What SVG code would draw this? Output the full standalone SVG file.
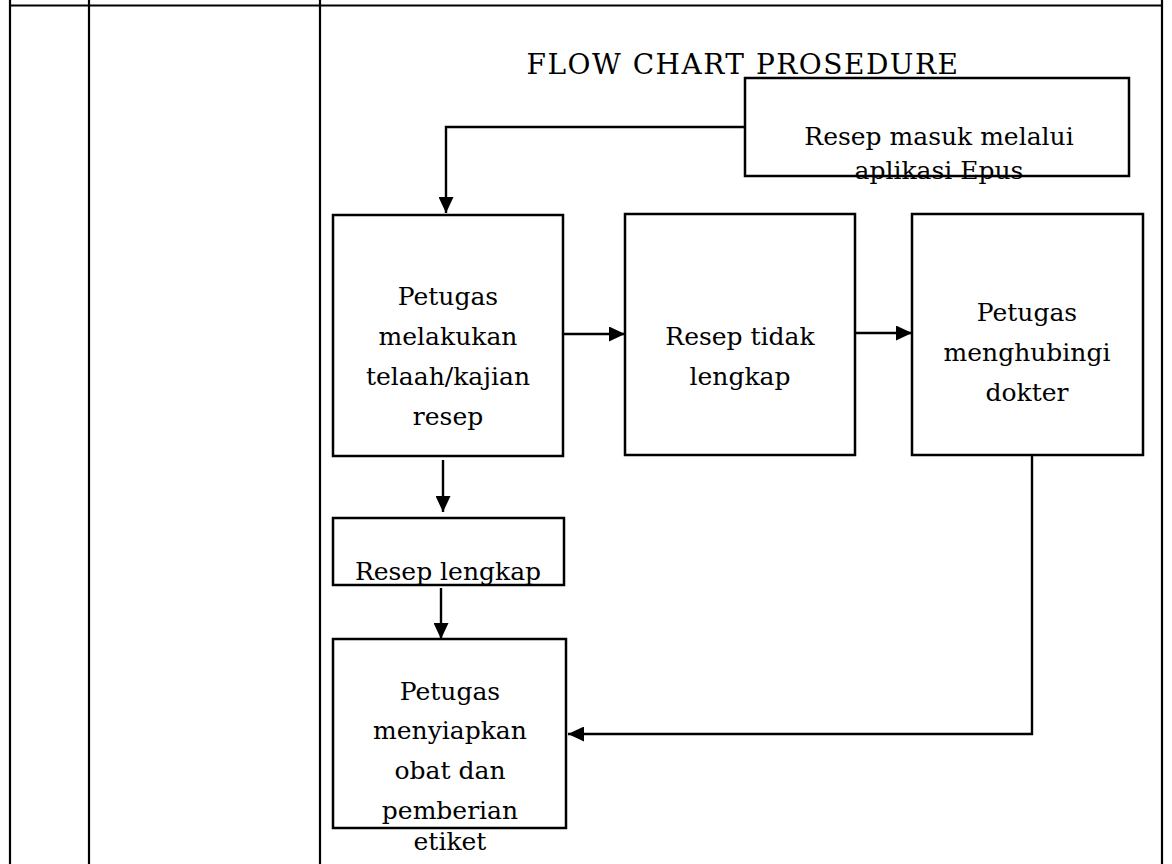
<svg xmlns="http://www.w3.org/2000/svg" width="1172" height="864" viewBox="0 0 1172 864">
<style>
.tbl{stroke:#000;stroke-width:2.2;fill:none}
.box{fill:#fff;stroke:#000;stroke-width:2.5}
.t{font-family:"DejaVu Serif","Liberation Serif",serif;font-size:25px;fill:#000;text-anchor:middle}
.title{font-family:"DejaVu Serif","Liberation Serif",serif;font-size:28px;letter-spacing:1.5px;fill:#000;text-anchor:middle}
.c{fill:none;stroke:#000;stroke-width:2.4}
</style>
<defs>
<marker id="ah" markerUnits="userSpaceOnUse" markerWidth="16" markerHeight="15" refX="16" refY="7.5" orient="auto">
<path d="M0,0 L16,7.5 L0,15 z" fill="#000"/>
</marker>
</defs>
<rect width="1172" height="864" fill="#fff"/>
<g id="table">
<line class="tbl" x1="10" y1="0" x2="10" y2="864"/>
<line class="tbl" x1="89" y1="0" x2="89" y2="864"/>
<line class="tbl" x1="320" y1="0" x2="320" y2="864"/>
<line class="tbl" x1="1162" y1="0" x2="1162" y2="864"/>
<line class="tbl" x1="10" y1="5.5" x2="1162" y2="5.5"/>
</g>
<text class="title" x="743" y="74">FLOW CHART PROSEDURE</text>
<g id="connectors">
<path class="c" d="M745,127 H446 V213" marker-end="url(#ah)"/>
<path class="c" d="M564,334 H625" marker-end="url(#ah)"/>
<path class="c" d="M853,333 H912" marker-end="url(#ah)"/>
<path class="c" d="M443,460 V512" marker-end="url(#ah)"/>
<path class="c" d="M441,588 V639" marker-end="url(#ah)"/>
<path class="c" d="M1032,456 V734 H568" marker-end="url(#ah)"/>
</g>
<g id="n-epus">
<rect class="box" x="745" y="78" width="384" height="98"/>
<text class="t" x="939" y="145">Resep masuk melalui</text>
<text class="t" x="939" y="179">aplikasi Epus</text>
</g>
<g id="n-telaah">
<rect class="box" x="333" y="215" width="230" height="241"/>
<text class="t" x="448" y="305">Petugas</text>
<text class="t" x="448" y="345">melakukan</text>
<text class="t" x="448" y="385">telaah/kajian</text>
<text class="t" x="448" y="425">resep</text>
</g>
<g id="n-tidak">
<rect class="box" x="625" y="214" width="230" height="241"/>
<text class="t" x="740" y="345">Resep tidak</text>
<text class="t" x="740" y="385">lengkap</text>
</g>
<g id="n-dokter">
<rect class="box" x="912" y="214" width="231" height="241"/>
<text class="t" x="1027" y="321">Petugas</text>
<text class="t" x="1027" y="361">menghubingi</text>
<text class="t" x="1027" y="401">dokter</text>
</g>
<g id="n-lengkap">
<rect class="box" x="333" y="518" width="231" height="67"/>
<text class="t" x="448" y="580">Resep lengkap</text>
</g>
<g id="n-obat">
<rect class="box" x="333" y="639" width="233" height="189"/>
<text class="t" x="450" y="700">Petugas</text>
<text class="t" x="450" y="739">menyiapkan</text>
<text class="t" x="450" y="779">obat dan</text>
<text class="t" x="450" y="819">pemberian</text>
<text class="t" x="450" y="850">etiket</text>
</g>
</svg>
